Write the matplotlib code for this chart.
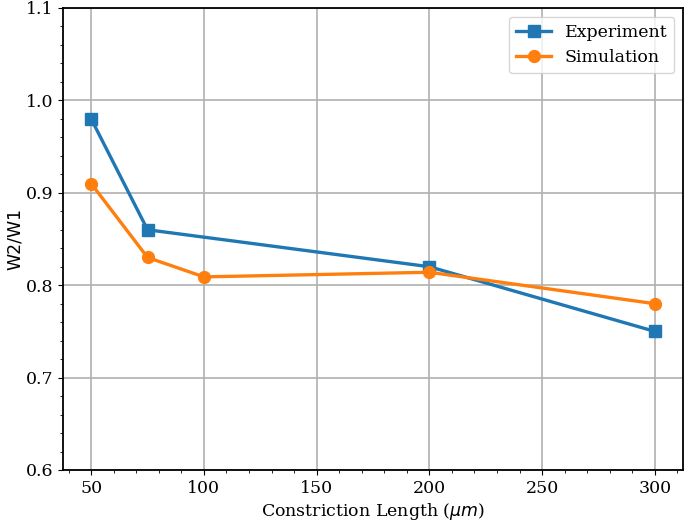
""" W2/W1 ratio vs constriction length, experiment vs simulation
"""

import matplotlib
matplotlib.use('Agg')
import matplotlib.pyplot as plt
from matplotlib.ticker import AutoMinorLocator

exp_len = [50, 75, 200, 300]
exp_ratio = [0.98, 0.86, 0.82, 0.75]
sim_len = [50, 75, 100, 200, 300]
sim_ratio = [0.91, 0.83, 0.809, 0.814, 0.78]

plt.rcParams['font.family'] = 'DejaVu Serif'
plt.rcParams['font.size'] = 12.5

fig = plt.figure(figsize=(6.85, 5.23), dpi=100)
ax = fig.add_subplot(111)
fig.subplots_adjust(left=63/685, right=683/685, top=1-8/523, bottom=1-470/523)

ax.plot(exp_len, exp_ratio, marker='s', color='#1f77b4', lw=2.4, ms=8.5,
        label='Experiment')
ax.plot(sim_len, sim_ratio, marker='o', color='#ff7f0e', lw=2.4, ms=8.5,
        label='Simulation')

ax.set_ylim(0.6, 1.1)
ax.set_xlim(37.5, 312.5)
ax.xaxis.set_minor_locator(AutoMinorLocator())
ax.yaxis.set_minor_locator(AutoMinorLocator())
ax.grid(True, which='major', color='#b0b0b0', lw=1.2)
ax.set_axisbelow(True)
for s in ax.spines.values():
    s.set_linewidth(1.3)

ax.set_xlabel(r'Constriction Length ($\mu m$)', labelpad=3)
ax.set_ylabel('W2/W1', fontfamily='DejaVu Sans', fontsize=12.5, labelpad=1)
ax.legend(loc='upper right', fontsize=12.5)

fig.savefig('out.png', dpi=100)
